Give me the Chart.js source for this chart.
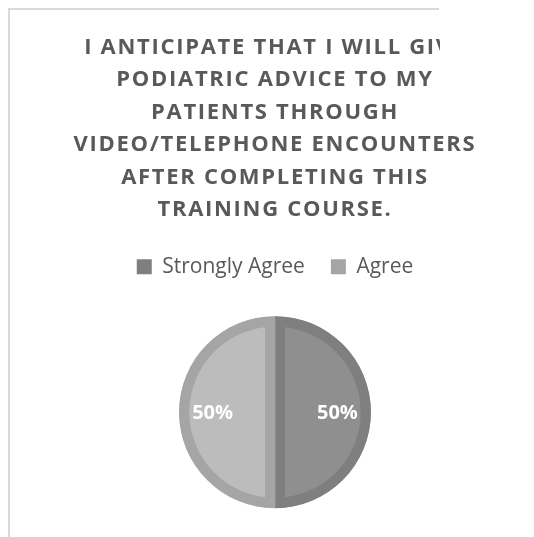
<!DOCTYPE html>
<html>
<head>
<meta charset="utf-8">
<script src="https://cdn.jsdelivr.net/npm/chart.js@4.4.1/dist/chart.umd.min.js"></script>
<style>
  html, body { margin: 0; padding: 0; background: #fff; }
  #wrap { width: 534px; height: 537px; }
</style>
</head>
<body>
<div id="wrap"><canvas id="pie"></canvas></div>
<script>
// ===== DATA =====
const categories = ['Strongly Agree', 'Agree'];
const shares = [50, 50];
const titleLines = [
    'I ANTICIPATE THAT I WILL GIVE',
    'PODIATRIC ADVICE TO MY',
    'PATIENTS THROUGH',
    'VIDEO/TELEPHONE ENCOUNTERS',
    'AFTER COMPLETING THIS',
    'TRAINING COURSE.'
];

const fillColors = ['#8f8f8f', '#bcbcbc'];
const edgeColors = ['#7f7f7f', '#a5a5a5'];

// percentage labels in the middle of each slice
const sliceLabels = {
    id: 'sliceLabels',
    afterDatasetsDraw(chart) {
        const ctx = chart.ctx;
        const meta = chart.getDatasetMeta(0);
        const total = shares.reduce((a, b) => a + b, 0);
        ctx.save();
        ctx.font = 'bold 20px "Open Sans"';
        ctx.fillStyle = '#ffffff';
        ctx.textAlign = 'center';
        ctx.textBaseline = 'middle';
        meta.data.forEach((arc, i) => {
            const p = arc.getProps(['x', 'y', 'startAngle', 'endAngle', 'outerRadius'], true);
            const mid = (p.startAngle + p.endAngle) / 2;
            const r = p.outerRadius * 0.65;
            ctx.fillText(Math.round(shares[i] / total * 100) + '%', p.x + Math.cos(mid) * r, p.y + Math.sin(mid) * r + 1);
        });
        ctx.restore();
    }
};

// wider letter spacing for the title text
const spacedTitle = {
    id: 'spacedTitle',
    afterInit(chart) {
        const block = chart.titleBlock;
        if (!block) return;
        const draw = block.draw.bind(block);
        block.draw = function() {
            chart.ctx.letterSpacing = '1.7px';
            draw();
            chart.ctx.letterSpacing = '0px';
        };
    }
};

// chart frame: left and top edge; the frame cuts the first title line
const frame = {
    id: 'frame',
    afterDraw(chart) {
        const ctx = chart.ctx;
        ctx.save();
        ctx.fillStyle = '#ffffff';
        ctx.fillRect(440, 28, 94, 34);
        ctx.strokeStyle = '#d9d9d9';
        ctx.lineWidth = 2;
        ctx.beginPath();
        ctx.moveTo(9, 537);
        ctx.lineTo(9, 9);
        ctx.lineTo(439, 9);
        ctx.stroke();
        ctx.restore();
    }
};

new Chart(document.getElementById('pie'), {
    type: 'pie',
    data: {
        labels: categories,
        datasets: [{
            data: shares,
            backgroundColor: fillColors,
            borderColor: edgeColors,
            borderWidth: 10,
            borderAlign: 'inner'
        }]
    },
    options: {
        responsive: true,
        maintainAspectRatio: false,
        animation: false,
        radius: 96,
        layout: { padding: { top: 0, bottom: 0, left: 22, right: 6 } },
        plugins: {
            title: {
                display: true,
                text: titleLines,
                color: '#595959',
                font: { family: '"Open Sans"', size: 22, weight: 'bold', lineHeight: 1.48 },
                padding: { top: 31, bottom: 4 }
            },
            legend: {
                position: 'top',
                labels: {
                    color: '#595959',
                    font: { family: '"Open Sans"', size: 21 },
                    boxWidth: 15,
                    boxHeight: 15,
                    padding: 26,
                    generateLabels(chart) {
                        return Chart.overrides.pie.plugins.legend.labels.generateLabels(chart).map((item, i) => {
                            item.fillStyle = edgeColors[i];
                            item.lineWidth = 0;
                            return item;
                        });
                    }
                }
            },
            tooltip: { enabled: false }
        }
    },
    plugins: [sliceLabels, spacedTitle, frame]
});
</script>
</body>
</html>
